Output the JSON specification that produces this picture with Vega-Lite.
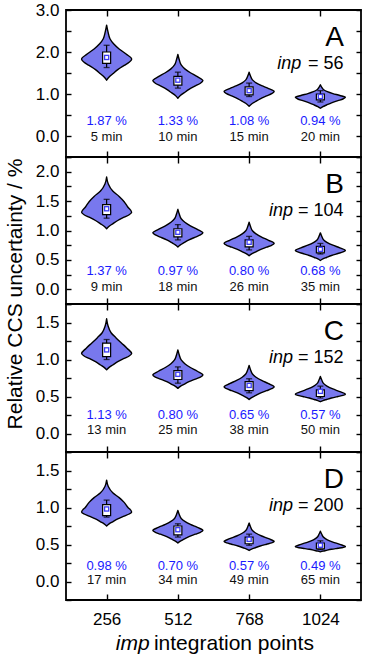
{
"$schema":"https://vega.github.io/schema/vega-lite/v6.json",
"background":"white","padding":{"left":3,"top":0,"right":0,"bottom":0},"autosize":{"type":"pad"},"bounds":"flush","spacing":0,
"config":{"font":"Liberation Sans","view":{"stroke":"black","strokeWidth":1.8},"axis":{"domain":false,"grid":false,"tickColor":"black","tickWidth":1.4,"labelColor":"black","labelFontSize":17,"labelFont":"Liberation Sans","labelFlush":false,"labelOverlap":false},"concat":{"spacing":0}},
"datasets":{
"v":[
{"p":"A","i":256,"u":2.64,"lo":256,"hi":256},{"p":"A","i":256,"u":2.478,"lo":251,"hi":261},{"p":"A","i":256,"u":2.316,"lo":244,"hi":268},{"p":"A","i":256,"u":2.195,"lo":231,"hi":281},{"p":"A","i":256,"u":2.073,"lo":211,"hi":301},{"p":"A","i":256,"u":1.951,"lo":186,"hi":326},{"p":"A","i":256,"u":1.83,"lo":166,"hi":346},{"p":"A","i":256,"u":1.755,"lo":175,"hi":337},{"p":"A","i":256,"u":1.68,"lo":193,"hi":319},{"p":"A","i":256,"u":1.58,"lo":216,"hi":296},{"p":"A","i":256,"u":1.48,"lo":234,"hi":278},{"p":"A","i":256,"u":1.405,"lo":247,"hi":265},{"p":"A","i":256,"u":1.33,"lo":256,"hi":256},
{"p":"A","i":512,"u":1.94,"lo":512,"hi":512},{"p":"A","i":512,"u":1.816,"lo":507,"hi":517},{"p":"A","i":512,"u":1.692,"lo":500,"hi":524},{"p":"A","i":512,"u":1.599,"lo":487,"hi":537},{"p":"A","i":512,"u":1.506,"lo":467,"hi":557},{"p":"A","i":512,"u":1.413,"lo":442,"hi":582},{"p":"A","i":512,"u":1.32,"lo":422,"hi":602},{"p":"A","i":512,"u":1.257,"lo":431,"hi":593},{"p":"A","i":512,"u":1.194,"lo":449,"hi":575},{"p":"A","i":512,"u":1.11,"lo":472,"hi":552},{"p":"A","i":512,"u":1.026,"lo":490,"hi":534},{"p":"A","i":512,"u":0.963,"lo":503,"hi":521},{"p":"A","i":512,"u":0.9,"lo":512,"hi":512},
{"p":"A","i":768,"u":1.52,"lo":768,"hi":768},{"p":"A","i":768,"u":1.428,"lo":763,"hi":773},{"p":"A","i":768,"u":1.336,"lo":756,"hi":780},{"p":"A","i":768,"u":1.267,"lo":743,"hi":793},{"p":"A","i":768,"u":1.198,"lo":723,"hi":813},{"p":"A","i":768,"u":1.129,"lo":698,"hi":838},{"p":"A","i":768,"u":1.06,"lo":678,"hi":858},{"p":"A","i":768,"u":1.008,"lo":687,"hi":849},{"p":"A","i":768,"u":0.955,"lo":705,"hi":831},{"p":"A","i":768,"u":0.885,"lo":728,"hi":808},{"p":"A","i":768,"u":0.815,"lo":746,"hi":790},{"p":"A","i":768,"u":0.763,"lo":759,"hi":777},{"p":"A","i":768,"u":0.71,"lo":768,"hi":768},
{"p":"A","i":1024,"u":1.22,"lo":1024,"hi":1024},{"p":"A","i":1024,"u":1.16,"lo":1019,"hi":1029},{"p":"A","i":1024,"u":1.1,"lo":1012,"hi":1036},{"p":"A","i":1024,"u":1.055,"lo":999,"hi":1049},{"p":"A","i":1024,"u":1.01,"lo":979,"hi":1069},{"p":"A","i":1024,"u":0.965,"lo":954,"hi":1094},{"p":"A","i":1024,"u":0.92,"lo":934,"hi":1114},{"p":"A","i":1024,"u":0.881,"lo":943,"hi":1105},{"p":"A","i":1024,"u":0.842,"lo":961,"hi":1087},{"p":"A","i":1024,"u":0.79,"lo":984,"hi":1064},{"p":"A","i":1024,"u":0.738,"lo":1002,"hi":1046},{"p":"A","i":1024,"u":0.699,"lo":1015,"hi":1033},{"p":"A","i":1024,"u":0.66,"lo":1024,"hi":1024},
{"p":"B","i":256,"u":1.91,"lo":256,"hi":256},{"p":"B","i":256,"u":1.79,"lo":250,"hi":262},{"p":"B","i":256,"u":1.67,"lo":234,"hi":278},{"p":"B","i":256,"u":1.58,"lo":211,"hi":301},{"p":"B","i":256,"u":1.49,"lo":193,"hi":319},{"p":"B","i":256,"u":1.4,"lo":180,"hi":332},{"p":"B","i":256,"u":1.31,"lo":166,"hi":346},{"p":"B","i":256,"u":1.268,"lo":175,"hi":337},{"p":"B","i":256,"u":1.226,"lo":193,"hi":319},{"p":"B","i":256,"u":1.17,"lo":216,"hi":296},{"p":"B","i":256,"u":1.114,"lo":234,"hi":278},{"p":"B","i":256,"u":1.072,"lo":247,"hi":265},{"p":"B","i":256,"u":1.03,"lo":256,"hi":256},
{"p":"B","i":512,"u":1.36,"lo":512,"hi":512},{"p":"B","i":512,"u":1.28,"lo":507,"hi":517},{"p":"B","i":512,"u":1.2,"lo":500,"hi":524},{"p":"B","i":512,"u":1.14,"lo":487,"hi":537},{"p":"B","i":512,"u":1.08,"lo":467,"hi":557},{"p":"B","i":512,"u":1.02,"lo":442,"hi":582},{"p":"B","i":512,"u":0.96,"lo":422,"hi":602},{"p":"B","i":512,"u":0.924,"lo":431,"hi":593},{"p":"B","i":512,"u":0.888,"lo":449,"hi":575},{"p":"B","i":512,"u":0.84,"lo":472,"hi":552},{"p":"B","i":512,"u":0.792,"lo":490,"hi":534},{"p":"B","i":512,"u":0.756,"lo":503,"hi":521},{"p":"B","i":512,"u":0.72,"lo":512,"hi":512},
{"p":"B","i":768,"u":1.14,"lo":768,"hi":768},{"p":"B","i":768,"u":1.068,"lo":763,"hi":773},{"p":"B","i":768,"u":0.996,"lo":756,"hi":780},{"p":"B","i":768,"u":0.942,"lo":743,"hi":793},{"p":"B","i":768,"u":0.888,"lo":723,"hi":813},{"p":"B","i":768,"u":0.834,"lo":698,"hi":838},{"p":"B","i":768,"u":0.78,"lo":678,"hi":858},{"p":"B","i":768,"u":0.749,"lo":687,"hi":849},{"p":"B","i":768,"u":0.717,"lo":705,"hi":831},{"p":"B","i":768,"u":0.675,"lo":728,"hi":808},{"p":"B","i":768,"u":0.633,"lo":746,"hi":790},{"p":"B","i":768,"u":0.602,"lo":759,"hi":777},{"p":"B","i":768,"u":0.57,"lo":768,"hi":768},
{"p":"B","i":1024,"u":0.96,"lo":1024,"hi":1024},{"p":"B","i":1024,"u":0.9,"lo":1019,"hi":1029},{"p":"B","i":1024,"u":0.84,"lo":1012,"hi":1036},{"p":"B","i":1024,"u":0.795,"lo":999,"hi":1049},{"p":"B","i":1024,"u":0.75,"lo":979,"hi":1069},{"p":"B","i":1024,"u":0.705,"lo":954,"hi":1094},{"p":"B","i":1024,"u":0.66,"lo":934,"hi":1114},{"p":"B","i":1024,"u":0.635,"lo":943,"hi":1105},{"p":"B","i":1024,"u":0.609,"lo":961,"hi":1087},{"p":"B","i":1024,"u":0.575,"lo":984,"hi":1064},{"p":"B","i":1024,"u":0.541,"lo":1002,"hi":1046},{"p":"B","i":1024,"u":0.516,"lo":1015,"hi":1033},{"p":"B","i":1024,"u":0.49,"lo":1024,"hi":1024},
{"p":"C","i":256,"u":1.55,"lo":256,"hi":256},{"p":"C","i":256,"u":1.456,"lo":251,"hi":261},{"p":"C","i":256,"u":1.362,"lo":240,"hi":272},{"p":"C","i":256,"u":1.292,"lo":222,"hi":290},{"p":"C","i":256,"u":1.221,"lo":202,"hi":310},{"p":"C","i":256,"u":1.15,"lo":182,"hi":330},{"p":"C","i":256,"u":1.08,"lo":166,"hi":346},{"p":"C","i":256,"u":1.047,"lo":175,"hi":337},{"p":"C","i":256,"u":1.014,"lo":193,"hi":319},{"p":"C","i":256,"u":0.97,"lo":216,"hi":296},{"p":"C","i":256,"u":0.926,"lo":234,"hi":278},{"p":"C","i":256,"u":0.893,"lo":247,"hi":265},{"p":"C","i":256,"u":0.86,"lo":256,"hi":256},
{"p":"C","i":512,"u":1.13,"lo":512,"hi":512},{"p":"C","i":512,"u":1.062,"lo":507,"hi":517},{"p":"C","i":512,"u":0.994,"lo":500,"hi":524},{"p":"C","i":512,"u":0.943,"lo":487,"hi":537},{"p":"C","i":512,"u":0.892,"lo":467,"hi":557},{"p":"C","i":512,"u":0.841,"lo":442,"hi":582},{"p":"C","i":512,"u":0.79,"lo":422,"hi":602},{"p":"C","i":512,"u":0.763,"lo":431,"hi":593},{"p":"C","i":512,"u":0.736,"lo":449,"hi":575},{"p":"C","i":512,"u":0.7,"lo":472,"hi":552},{"p":"C","i":512,"u":0.664,"lo":490,"hi":534},{"p":"C","i":512,"u":0.637,"lo":503,"hi":521},{"p":"C","i":512,"u":0.61,"lo":512,"hi":512},
{"p":"C","i":768,"u":0.92,"lo":768,"hi":768},{"p":"C","i":768,"u":0.862,"lo":763,"hi":773},{"p":"C","i":768,"u":0.804,"lo":756,"hi":780},{"p":"C","i":768,"u":0.76,"lo":743,"hi":793},{"p":"C","i":768,"u":0.717,"lo":723,"hi":813},{"p":"C","i":768,"u":0.674,"lo":698,"hi":838},{"p":"C","i":768,"u":0.63,"lo":678,"hi":858},{"p":"C","i":768,"u":0.605,"lo":687,"hi":849},{"p":"C","i":768,"u":0.579,"lo":705,"hi":831},{"p":"C","i":768,"u":0.545,"lo":728,"hi":808},{"p":"C","i":768,"u":0.511,"lo":746,"hi":790},{"p":"C","i":768,"u":0.486,"lo":759,"hi":777},{"p":"C","i":768,"u":0.46,"lo":768,"hi":768},
{"p":"C","i":1024,"u":0.77,"lo":1024,"hi":1024},{"p":"C","i":1024,"u":0.722,"lo":1019,"hi":1029},{"p":"C","i":1024,"u":0.674,"lo":1012,"hi":1036},{"p":"C","i":1024,"u":0.638,"lo":999,"hi":1049},{"p":"C","i":1024,"u":0.602,"lo":979,"hi":1069},{"p":"C","i":1024,"u":0.566,"lo":954,"hi":1094},{"p":"C","i":1024,"u":0.53,"lo":934,"hi":1114},{"p":"C","i":1024,"u":0.515,"lo":943,"hi":1105},{"p":"C","i":1024,"u":0.5,"lo":961,"hi":1087},{"p":"C","i":1024,"u":0.48,"lo":984,"hi":1064},{"p":"C","i":1024,"u":0.46,"lo":1002,"hi":1046},{"p":"C","i":1024,"u":0.445,"lo":1015,"hi":1033},{"p":"C","i":1024,"u":0.43,"lo":1024,"hi":1024},
{"p":"D","i":256,"u":1.37,"lo":256,"hi":256},{"p":"D","i":256,"u":1.284,"lo":250,"hi":262},{"p":"D","i":256,"u":1.198,"lo":234,"hi":278},{"p":"D","i":256,"u":1.133,"lo":211,"hi":301},{"p":"D","i":256,"u":1.069,"lo":193,"hi":319},{"p":"D","i":256,"u":1.004,"lo":180,"hi":332},{"p":"D","i":256,"u":0.94,"lo":166,"hi":346},{"p":"D","i":256,"u":0.912,"lo":175,"hi":337},{"p":"D","i":256,"u":0.883,"lo":193,"hi":319},{"p":"D","i":256,"u":0.845,"lo":216,"hi":296},{"p":"D","i":256,"u":0.807,"lo":234,"hi":278},{"p":"D","i":256,"u":0.779,"lo":247,"hi":265},{"p":"D","i":256,"u":0.75,"lo":256,"hi":256},
{"p":"D","i":512,"u":0.96,"lo":512,"hi":512},{"p":"D","i":512,"u":0.906,"lo":507,"hi":517},{"p":"D","i":512,"u":0.852,"lo":500,"hi":524},{"p":"D","i":512,"u":0.812,"lo":487,"hi":537},{"p":"D","i":512,"u":0.771,"lo":467,"hi":557},{"p":"D","i":512,"u":0.731,"lo":442,"hi":582},{"p":"D","i":512,"u":0.69,"lo":422,"hi":602},{"p":"D","i":512,"u":0.665,"lo":431,"hi":593},{"p":"D","i":512,"u":0.639,"lo":449,"hi":575},{"p":"D","i":512,"u":0.605,"lo":472,"hi":552},{"p":"D","i":512,"u":0.571,"lo":490,"hi":534},{"p":"D","i":512,"u":0.546,"lo":503,"hi":521},{"p":"D","i":512,"u":0.52,"lo":512,"hi":512},
{"p":"D","i":768,"u":0.79,"lo":768,"hi":768},{"p":"D","i":768,"u":0.74,"lo":763,"hi":773},{"p":"D","i":768,"u":0.69,"lo":756,"hi":780},{"p":"D","i":768,"u":0.652,"lo":743,"hi":793},{"p":"D","i":768,"u":0.615,"lo":723,"hi":813},{"p":"D","i":768,"u":0.578,"lo":698,"hi":838},{"p":"D","i":768,"u":0.54,"lo":678,"hi":858},{"p":"D","i":768,"u":0.522,"lo":687,"hi":849},{"p":"D","i":768,"u":0.504,"lo":705,"hi":831},{"p":"D","i":768,"u":0.48,"lo":728,"hi":808},{"p":"D","i":768,"u":0.456,"lo":746,"hi":790},{"p":"D","i":768,"u":0.438,"lo":759,"hi":777},{"p":"D","i":768,"u":0.42,"lo":768,"hi":768},
{"p":"D","i":1024,"u":0.68,"lo":1024,"hi":1024},{"p":"D","i":1024,"u":0.638,"lo":1019,"hi":1029},{"p":"D","i":1024,"u":0.596,"lo":1012,"hi":1036},{"p":"D","i":1024,"u":0.564,"lo":999,"hi":1049},{"p":"D","i":1024,"u":0.533,"lo":979,"hi":1069},{"p":"D","i":1024,"u":0.502,"lo":954,"hi":1094},{"p":"D","i":1024,"u":0.47,"lo":934,"hi":1114},{"p":"D","i":1024,"u":0.46,"lo":943,"hi":1105},{"p":"D","i":1024,"u":0.449,"lo":961,"hi":1087},{"p":"D","i":1024,"u":0.435,"lo":984,"hi":1064},{"p":"D","i":1024,"u":0.421,"lo":1002,"hi":1046},{"p":"D","i":1024,"u":0.41,"lo":1015,"hi":1033},{"p":"D","i":1024,"u":0.4,"lo":1024,"hi":1024}
],
"s":[
{"p":"A","i":256,"blo":1.73,"bhi":2.0,"wlo":1.63,"whi":2.16,"m":1.87,"pct":"1.87 %","t":"5 min"},
{"p":"A","i":512,"blo":1.21,"bhi":1.42,"wlo":1.14,"whi":1.52,"m":1.33,"pct":"1.33 %","t":"10 min"},
{"p":"A","i":768,"blo":0.98,"bhi":1.17,"wlo":0.94,"whi":1.26,"m":1.08,"pct":"1.08 %","t":"15 min"},
{"p":"A","i":1024,"blo":0.86,"bhi":1.0,"wlo":0.81,"whi":1.08,"m":0.94,"pct":"0.94 %","t":"20 min"},
{"p":"B","i":256,"blo":1.27,"bhi":1.44,"wlo":1.21,"whi":1.53,"m":1.37,"pct":"1.37 %","t":"9 min"},
{"p":"B","i":512,"blo":0.89,"bhi":1.03,"wlo":0.84,"whi":1.1,"m":0.97,"pct":"0.97 %","t":"18 min"},
{"p":"B","i":768,"blo":0.72,"bhi":0.84,"wlo":0.67,"whi":0.9,"m":0.8,"pct":"0.80 %","t":"26 min"},
{"p":"B","i":1024,"blo":0.62,"bhi":0.73,"wlo":0.6,"whi":0.78,"m":0.68,"pct":"0.68 %","t":"35 min"},
{"p":"C","i":256,"blo":1.04,"bhi":1.22,"wlo":1.0,"whi":1.27,"m":1.13,"pct":"1.13 %","t":"13 min"},
{"p":"C","i":512,"blo":0.73,"bhi":0.85,"wlo":0.68,"whi":0.9,"m":0.8,"pct":"0.80 %","t":"25 min"},
{"p":"C","i":768,"blo":0.58,"bhi":0.7,"wlo":0.55,"whi":0.74,"m":0.65,"pct":"0.65 %","t":"38 min"},
{"p":"C","i":1024,"blo":0.5,"bhi":0.59,"wlo":0.48,"whi":0.64,"m":0.57,"pct":"0.57 %","t":"50 min"},
{"p":"D","i":256,"blo":0.89,"bhi":1.04,"wlo":0.87,"whi":1.1,"m":0.98,"pct":"0.98 %","t":"17 min"},
{"p":"D","i":512,"blo":0.63,"bhi":0.75,"wlo":0.6,"whi":0.78,"m":0.7,"pct":"0.70 %","t":"34 min"},
{"p":"D","i":768,"blo":0.51,"bhi":0.6,"wlo":0.49,"whi":0.64,"m":0.57,"pct":"0.57 %","t":"49 min"},
{"p":"D","i":1024,"blo":0.44,"bhi":0.52,"wlo":0.43,"whi":0.55,"m":0.49,"pct":"0.49 %","t":"65 min"}
],
"q":[
{"p":"A","L":"A","k":"inp","n":"= 56"},
{"p":"B","L":"B","k":"inp","n":"= 104","yt":"Relative CCS uncertainty / %"},
{"p":"C","L":"C","k":"inp","n":"= 152"},
{"p":"D","L":"D","k":"inp","n":"= 200","xa":"imp","xb":"integration points"}
]
},
"vconcat":[
{"width":295,"height":147,"resolve":{"axis":{"x":"independent","y":"independent"}},
"layer":[
{"data":{"name":"v"},"transform":[{"filter":"datum.p==='A'"}],"mark":{"type":"area","orient":"horizontal","interpolate":"monotone","fill":"#7878ee","stroke":"black","strokeWidth":1.4,"strokeJoin":"round"},
"encoding":{"detail":{"field":"i"},"y":{"field":"u","type":"quantitative","scale":{"domain":[-0.5,3],"nice":false,"zero":false},"axis":{"orient":"left","values":[-0.5,0,0.5,1,1.5,2,2.5,3],"labelExpr":"datum.value % 1 === 0 ? format(datum.value, '.1f') : ''","title":null,"tickSize":-5,"labelPadding":12}},
"x":{"field":"lo","type":"quantitative","scale":{"domain":[128,1152],"nice":false,"zero":false},"axis":{"orient":"bottom","values":[256,512,768,1024],"labels":false,"title":null,"tickSize":-6}},"x2":{"field":"hi"}}},
{"data":{"name":"s"},"transform":[{"filter":"datum.p==='A'"}],"mark":{"type":"rule","color":"black","strokeWidth":1.2},
"encoding":{"x":{"field":"i","type":"quantitative","axis":{"orient":"top","values":[256,512,768,1024],"labels":false,"title":null,"tickSize":-6}},"y":{"field":"wlo","type":"quantitative","axis":{"orient":"right","values":[-0.5,0,0.5,1,1.5,2,2.5,3],"labels":false,"title":null,"tickSize":-5}},"y2":{"field":"whi"}}},
{"data":{"name":"s"},"transform":[{"filter":"datum.p==='A'"}],"mark":{"type":"tick","orient":"horizontal","color":"black","size":6,"thickness":1.3},"encoding":{"x":{"field":"i","type":"quantitative","axis":null},"y":{"field":"whi","type":"quantitative","axis":null}}},
{"data":{"name":"s"},"transform":[{"filter":"datum.p==='A'"}],"mark":{"type":"tick","orient":"horizontal","color":"black","size":6,"thickness":1.3},"encoding":{"x":{"field":"i","type":"quantitative","axis":null},"y":{"field":"wlo","type":"quantitative","axis":null}}},
{"data":{"name":"s"},"transform":[{"filter":"datum.p==='A'"}],"mark":{"type":"bar","size":8,"fill":"white","stroke":"black","strokeWidth":1.2},"encoding":{"x":{"field":"i","type":"quantitative","axis":null},"y":{"field":"blo","type":"quantitative","axis":null},"y2":{"field":"bhi"}}},
{"data":{"name":"s"},"transform":[{"filter":"datum.p==='A'"}],"mark":{"type":"square","color":"#3c3cf5","size":30,"opacity":1},"encoding":{"x":{"field":"i","type":"quantitative","axis":null},"y":{"field":"m","type":"quantitative","axis":null}}},
{"data":{"name":"s"},"transform":[{"filter":"datum.p==='A'"}],"mark":{"type":"square","color":"white","size":8,"opacity":1},"encoding":{"x":{"field":"i","type":"quantitative","axis":null},"y":{"field":"m","type":"quantitative","axis":null}}},
{"data":{"name":"s"},"transform":[{"filter":"datum.p==='A'"}],"mark":{"type":"text","color":"#1a1aff","fontSize":13,"baseline":"middle"},"encoding":{"x":{"field":"i","type":"quantitative","axis":null},"y":{"datum":0.357,"type":"quantitative","axis":null},"text":{"field":"pct"}}},
{"data":{"name":"s"},"transform":[{"filter":"datum.p==='A'"}],"mark":{"type":"text","color":"#111111","fontSize":13,"baseline":"middle"},"encoding":{"x":{"field":"i","type":"quantitative","axis":null},"y":{"datum":-0.024,"type":"quantitative","axis":null},"text":{"field":"t"}}},
{"data":{"name":"q"},"transform":[{"filter":"datum.p==='A'"}],"mark":{"type":"text","color":"black","fontSize":28,"align":"right","baseline":"alphabetic"},"encoding":{"x":{"datum":1109,"type":"quantitative","axis":null},"y":{"datum":2.143,"type":"quantitative","axis":null},"text":{"field":"L"}}},
{"data":{"name":"q"},"transform":[{"filter":"datum.p==='A'"}],"mark":{"type":"text","color":"black","fontSize":18,"fontStyle":"italic","align":"right","baseline":"alphabetic"},"encoding":{"x":{"datum":955,"type":"quantitative","axis":null},"y":{"datum":1.595,"type":"quantitative","axis":null},"text":{"field":"k"}}},
{"data":{"name":"q"},"transform":[{"filter":"datum.p==='A'"}],"mark":{"type":"text","color":"black","fontSize":18,"align":"right","baseline":"alphabetic"},"encoding":{"x":{"datum":1107,"type":"quantitative","axis":null},"y":{"datum":1.595,"type":"quantitative","axis":null},"text":{"field":"n"}}}
]},
{"width":295,"height":147,"resolve":{"axis":{"x":"independent","y":"independent"}},
"layer":[
{"data":{"name":"v"},"transform":[{"filter":"datum.p==='B'"}],"mark":{"type":"area","orient":"horizontal","interpolate":"monotone","fill":"#7878ee","stroke":"black","strokeWidth":1.4,"strokeJoin":"round"},
"encoding":{"detail":{"field":"i"},"y":{"field":"u","type":"quantitative","scale":{"domain":[-0.25,2.25],"nice":false,"zero":false},"axis":{"orient":"left","values":[-0.25,0,0.25,0.5,0.75,1,1.25,1.5,1.75,2,2.25],"labelExpr":"datum.value % 0.5 === 0 ? format(datum.value, '.1f') : ''","title":null,"tickSize":-5,"labelPadding":12}},
"x":{"field":"lo","type":"quantitative","scale":{"domain":[128,1152],"nice":false,"zero":false},"axis":{"orient":"bottom","values":[256,512,768,1024],"labels":false,"title":null,"tickSize":-6}},"x2":{"field":"hi"}}},
{"data":{"name":"s"},"transform":[{"filter":"datum.p==='B'"}],"mark":{"type":"rule","color":"black","strokeWidth":1.2},
"encoding":{"x":{"field":"i","type":"quantitative","axis":{"orient":"top","values":[256,512,768,1024],"labels":false,"title":null,"tickSize":-6}},"y":{"field":"wlo","type":"quantitative","axis":{"orient":"right","values":[-0.25,0,0.25,0.5,0.75,1,1.25,1.5,1.75,2,2.25],"labels":false,"title":null,"tickSize":-5}},"y2":{"field":"whi"}}},
{"data":{"name":"s"},"transform":[{"filter":"datum.p==='B'"}],"mark":{"type":"tick","orient":"horizontal","color":"black","size":6,"thickness":1.3},"encoding":{"x":{"field":"i","type":"quantitative","axis":null},"y":{"field":"whi","type":"quantitative","axis":null}}},
{"data":{"name":"s"},"transform":[{"filter":"datum.p==='B'"}],"mark":{"type":"tick","orient":"horizontal","color":"black","size":6,"thickness":1.3},"encoding":{"x":{"field":"i","type":"quantitative","axis":null},"y":{"field":"wlo","type":"quantitative","axis":null}}},
{"data":{"name":"s"},"transform":[{"filter":"datum.p==='B'"}],"mark":{"type":"bar","size":8,"fill":"white","stroke":"black","strokeWidth":1.2},"encoding":{"x":{"field":"i","type":"quantitative","axis":null},"y":{"field":"blo","type":"quantitative","axis":null},"y2":{"field":"bhi"}}},
{"data":{"name":"s"},"transform":[{"filter":"datum.p==='B'"}],"mark":{"type":"square","color":"#3c3cf5","size":30,"opacity":1},"encoding":{"x":{"field":"i","type":"quantitative","axis":null},"y":{"field":"m","type":"quantitative","axis":null}}},
{"data":{"name":"s"},"transform":[{"filter":"datum.p==='B'"}],"mark":{"type":"square","color":"white","size":8,"opacity":1},"encoding":{"x":{"field":"i","type":"quantitative","axis":null},"y":{"field":"m","type":"quantitative","axis":null}}},
{"data":{"name":"s"},"transform":[{"filter":"datum.p==='B'"}],"mark":{"type":"text","color":"#1a1aff","fontSize":13,"baseline":"middle"},"encoding":{"x":{"field":"i","type":"quantitative","axis":null},"y":{"datum":0.315,"type":"quantitative","axis":null},"text":{"field":"pct"}}},
{"data":{"name":"s"},"transform":[{"filter":"datum.p==='B'"}],"mark":{"type":"text","color":"#111111","fontSize":13,"baseline":"middle"},"encoding":{"x":{"field":"i","type":"quantitative","axis":null},"y":{"datum":0.046,"type":"quantitative","axis":null},"text":{"field":"t"}}},
{"data":{"name":"q"},"transform":[{"filter":"datum.p==='B'"}],"mark":{"type":"text","color":"black","fontSize":28,"align":"right","baseline":"alphabetic"},"encoding":{"x":{"datum":1109,"type":"quantitative","axis":null},"y":{"datum":1.635,"type":"quantitative","axis":null},"text":{"field":"L"}}},
{"data":{"name":"q"},"transform":[{"filter":"datum.p==='B'"}],"mark":{"type":"text","color":"black","fontSize":18,"fontStyle":"italic","align":"right","baseline":"alphabetic"},"encoding":{"x":{"datum":926,"type":"quantitative","axis":null},"y":{"datum":1.241,"type":"quantitative","axis":null},"text":{"field":"k"}}},
{"data":{"name":"q"},"transform":[{"filter":"datum.p==='B'"}],"mark":{"type":"text","color":"black","fontSize":18,"align":"right","baseline":"alphabetic"},"encoding":{"x":{"datum":1107,"type":"quantitative","axis":null},"y":{"datum":1.241,"type":"quantitative","axis":null},"text":{"field":"n"}}},
{"data":{"name":"q"},"transform":[{"filter":"datum.p==='B'"}],"mark":{"type":"text","color":"black","fontSize":21,"angle":270,"align":"center","baseline":"middle"},"encoding":{"x":{"datum":-70,"type":"quantitative","axis":null},"y":{"datum":-0.08,"type":"quantitative","axis":null},"text":{"field":"yt"}}}
]},
{"width":295,"height":148,"resolve":{"axis":{"x":"independent","y":"independent"}},
"layer":[
{"data":{"name":"v"},"transform":[{"filter":"datum.p==='C'"}],"mark":{"type":"area","orient":"horizontal","interpolate":"monotone","fill":"#7878ee","stroke":"black","strokeWidth":1.4,"strokeJoin":"round"},
"encoding":{"detail":{"field":"i"},"y":{"field":"u","type":"quantitative","scale":{"domain":[-0.25,1.75],"nice":false,"zero":false},"axis":{"orient":"left","values":[-0.25,0,0.25,0.5,0.75,1,1.25,1.5,1.75],"labelExpr":"datum.value % 0.5 === 0 ? format(datum.value, '.1f') : ''","title":null,"tickSize":-5,"labelPadding":12}},
"x":{"field":"lo","type":"quantitative","scale":{"domain":[128,1152],"nice":false,"zero":false},"axis":{"orient":"bottom","values":[256,512,768,1024],"labels":false,"title":null,"tickSize":-6}},"x2":{"field":"hi"}}},
{"data":{"name":"s"},"transform":[{"filter":"datum.p==='C'"}],"mark":{"type":"rule","color":"black","strokeWidth":1.2},
"encoding":{"x":{"field":"i","type":"quantitative","axis":{"orient":"top","values":[256,512,768,1024],"labels":false,"title":null,"tickSize":-6}},"y":{"field":"wlo","type":"quantitative","axis":{"orient":"right","values":[-0.25,0,0.25,0.5,0.75,1,1.25,1.5,1.75],"labels":false,"title":null,"tickSize":-5}},"y2":{"field":"whi"}}},
{"data":{"name":"s"},"transform":[{"filter":"datum.p==='C'"}],"mark":{"type":"tick","orient":"horizontal","color":"black","size":6,"thickness":1.3},"encoding":{"x":{"field":"i","type":"quantitative","axis":null},"y":{"field":"whi","type":"quantitative","axis":null}}},
{"data":{"name":"s"},"transform":[{"filter":"datum.p==='C'"}],"mark":{"type":"tick","orient":"horizontal","color":"black","size":6,"thickness":1.3},"encoding":{"x":{"field":"i","type":"quantitative","axis":null},"y":{"field":"wlo","type":"quantitative","axis":null}}},
{"data":{"name":"s"},"transform":[{"filter":"datum.p==='C'"}],"mark":{"type":"bar","size":8,"fill":"white","stroke":"black","strokeWidth":1.2},"encoding":{"x":{"field":"i","type":"quantitative","axis":null},"y":{"field":"blo","type":"quantitative","axis":null},"y2":{"field":"bhi"}}},
{"data":{"name":"s"},"transform":[{"filter":"datum.p==='C'"}],"mark":{"type":"square","color":"#3c3cf5","size":30,"opacity":1},"encoding":{"x":{"field":"i","type":"quantitative","axis":null},"y":{"field":"m","type":"quantitative","axis":null}}},
{"data":{"name":"s"},"transform":[{"filter":"datum.p==='C'"}],"mark":{"type":"square","color":"white","size":8,"opacity":1},"encoding":{"x":{"field":"i","type":"quantitative","axis":null},"y":{"field":"m","type":"quantitative","axis":null}}},
{"data":{"name":"s"},"transform":[{"filter":"datum.p==='C'"}],"mark":{"type":"text","color":"#1a1aff","fontSize":13,"baseline":"middle"},"encoding":{"x":{"field":"i","type":"quantitative","axis":null},"y":{"datum":0.249,"type":"quantitative","axis":null},"text":{"field":"pct"}}},
{"data":{"name":"s"},"transform":[{"filter":"datum.p==='C'"}],"mark":{"type":"text","color":"#111111","fontSize":13,"baseline":"middle"},"encoding":{"x":{"field":"i","type":"quantitative","axis":null},"y":{"datum":0.046,"type":"quantitative","axis":null},"text":{"field":"t"}}},
{"data":{"name":"q"},"transform":[{"filter":"datum.p==='C'"}],"mark":{"type":"text","color":"black","fontSize":28,"align":"right","baseline":"alphabetic"},"encoding":{"x":{"datum":1109,"type":"quantitative","axis":null},"y":{"datum":1.26,"type":"quantitative","axis":null},"text":{"field":"L"}}},
{"data":{"name":"q"},"transform":[{"filter":"datum.p==='C'"}],"mark":{"type":"text","color":"black","fontSize":18,"fontStyle":"italic","align":"right","baseline":"alphabetic"},"encoding":{"x":{"datum":926,"type":"quantitative","axis":null},"y":{"datum":0.947,"type":"quantitative","axis":null},"text":{"field":"k"}}},
{"data":{"name":"q"},"transform":[{"filter":"datum.p==='C'"}],"mark":{"type":"text","color":"black","fontSize":18,"align":"right","baseline":"alphabetic"},"encoding":{"x":{"datum":1107,"type":"quantitative","axis":null},"y":{"datum":0.947,"type":"quantitative","axis":null},"text":{"field":"n"}}}
]},
{"width":295,"height":148,"resolve":{"axis":{"x":"independent","y":"independent"}},
"layer":[
{"data":{"name":"v"},"transform":[{"filter":"datum.p==='D'"}],"mark":{"type":"area","orient":"horizontal","interpolate":"monotone","fill":"#7878ee","stroke":"black","strokeWidth":1.4,"strokeJoin":"round"},
"encoding":{"detail":{"field":"i"},"y":{"field":"u","type":"quantitative","scale":{"domain":[-0.25,1.75],"nice":false,"zero":false},"axis":{"orient":"left","values":[-0.25,0,0.25,0.5,0.75,1,1.25,1.5,1.75],"labelExpr":"datum.value % 0.5 === 0 ? format(datum.value, '.1f') : ''","title":null,"tickSize":-5,"labelPadding":12}},
"x":{"field":"lo","type":"quantitative","scale":{"domain":[128,1152],"nice":false,"zero":false},"axis":{"orient":"bottom","values":[256,512,768,1024],"format":"d","labels":true,"title":null,"tickSize":-6,"labelPadding":17}},"x2":{"field":"hi"}}},
{"data":{"name":"s"},"transform":[{"filter":"datum.p==='D'"}],"mark":{"type":"rule","color":"black","strokeWidth":1.2},
"encoding":{"x":{"field":"i","type":"quantitative","axis":{"orient":"top","values":[256,512,768,1024],"labels":false,"title":null,"tickSize":-6}},"y":{"field":"wlo","type":"quantitative","axis":{"orient":"right","values":[-0.25,0,0.25,0.5,0.75,1,1.25,1.5,1.75],"labels":false,"title":null,"tickSize":-5}},"y2":{"field":"whi"}}},
{"data":{"name":"s"},"transform":[{"filter":"datum.p==='D'"}],"mark":{"type":"tick","orient":"horizontal","color":"black","size":6,"thickness":1.3},"encoding":{"x":{"field":"i","type":"quantitative","axis":null},"y":{"field":"whi","type":"quantitative","axis":null}}},
{"data":{"name":"s"},"transform":[{"filter":"datum.p==='D'"}],"mark":{"type":"tick","orient":"horizontal","color":"black","size":6,"thickness":1.3},"encoding":{"x":{"field":"i","type":"quantitative","axis":null},"y":{"field":"wlo","type":"quantitative","axis":null}}},
{"data":{"name":"s"},"transform":[{"filter":"datum.p==='D'"}],"mark":{"type":"bar","size":8,"fill":"white","stroke":"black","strokeWidth":1.2},"encoding":{"x":{"field":"i","type":"quantitative","axis":null},"y":{"field":"blo","type":"quantitative","axis":null},"y2":{"field":"bhi"}}},
{"data":{"name":"s"},"transform":[{"filter":"datum.p==='D'"}],"mark":{"type":"square","color":"#3c3cf5","size":30,"opacity":1},"encoding":{"x":{"field":"i","type":"quantitative","axis":null},"y":{"field":"m","type":"quantitative","axis":null}}},
{"data":{"name":"s"},"transform":[{"filter":"datum.p==='D'"}],"mark":{"type":"square","color":"white","size":8,"opacity":1},"encoding":{"x":{"field":"i","type":"quantitative","axis":null},"y":{"field":"m","type":"quantitative","axis":null}}},
{"data":{"name":"s"},"transform":[{"filter":"datum.p==='D'"}],"mark":{"type":"text","color":"#1a1aff","fontSize":13,"baseline":"middle"},"encoding":{"x":{"field":"i","type":"quantitative","axis":null},"y":{"datum":0.216,"type":"quantitative","axis":null},"text":{"field":"pct"}}},
{"data":{"name":"s"},"transform":[{"filter":"datum.p==='D'"}],"mark":{"type":"text","color":"#111111","fontSize":13,"baseline":"middle"},"encoding":{"x":{"field":"i","type":"quantitative","axis":null},"y":{"datum":0.014,"type":"quantitative","axis":null},"text":{"field":"t"}}},
{"data":{"name":"q"},"transform":[{"filter":"datum.p==='D'"}],"mark":{"type":"text","color":"black","fontSize":28,"align":"right","baseline":"alphabetic"},"encoding":{"x":{"datum":1109,"type":"quantitative","axis":null},"y":{"datum":1.26,"type":"quantitative","axis":null},"text":{"field":"L"}}},
{"data":{"name":"q"},"transform":[{"filter":"datum.p==='D'"}],"mark":{"type":"text","color":"black","fontSize":18,"fontStyle":"italic","align":"right","baseline":"alphabetic"},"encoding":{"x":{"datum":926,"type":"quantitative","axis":null},"y":{"datum":0.947,"type":"quantitative","axis":null},"text":{"field":"k"}}},
{"data":{"name":"q"},"transform":[{"filter":"datum.p==='D'"}],"mark":{"type":"text","color":"black","fontSize":18,"align":"right","baseline":"alphabetic"},"encoding":{"x":{"datum":1107,"type":"quantitative","axis":null},"y":{"datum":0.947,"type":"quantitative","axis":null},"text":{"field":"n"}}},
{"data":{"name":"q"},"transform":[{"filter":"datum.p==='D'"}],"mark":{"type":"text","color":"black","fontSize":21,"fontStyle":"italic","align":"left","baseline":"middle"},"encoding":{"x":{"datum":289,"type":"quantitative","axis":null},"y":{"datum":-0.843,"type":"quantitative","axis":null},"text":{"field":"xa"}}},
{"data":{"name":"q"},"transform":[{"filter":"datum.p==='D'"}],"mark":{"type":"text","color":"black","fontSize":21,"align":"left","baseline":"middle"},"encoding":{"x":{"datum":426,"type":"quantitative","axis":null},"y":{"datum":-0.843,"type":"quantitative","axis":null},"text":{"field":"xb"}}}
]}
]
}
